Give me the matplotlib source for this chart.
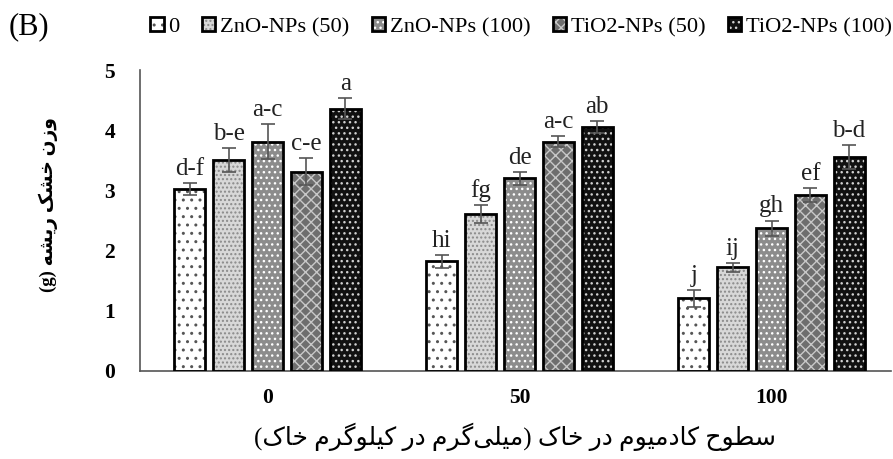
import matplotlib
matplotlib.use("Agg")
import matplotlib.pyplot as plt
import numpy as np
from matplotlib.legend_handler import HandlerTuple

# ---- data ----
cd_levels = ["0", "50", "100"]
treatments = ["0", "ZnO-NPs (50)", "ZnO-NPs (100)", "TiO2-NPs (50)", "TiO2-NPs (100)"]
values = [
    [3.02, 1.82, 1.21],   # 0
    [3.50, 2.61, 1.72],   # ZnO-NPs (50)
    [3.81, 3.20, 2.37],   # ZnO-NPs (100)
    [3.31, 3.81, 2.92],   # TiO2-NPs (50)
    [4.36, 4.06, 3.56],   # TiO2-NPs (100)
]
errors = [
    [0.10, 0.11, 0.14],
    [0.20, 0.15, 0.08],
    [0.29, 0.11, 0.13],
    [0.22, 0.09, 0.12],
    [0.17, 0.10, 0.20],
]
letters = [
    ["d-f", "hi", "j"],
    ["b-e", "fg", "ij"],
    ["a-c", "de", "gh"],
    ["c-e", "a-c", "ef"],
    ["a", "ab", "b-d"],
]
ylabel_fa = "وزن خشک ریشه (g)"
xlabel_fa = "سطوح کادمیوم در خاک (میلی\u200cگرم در کیلوگرم خاک)"

# face colour, hatch, hatch colour
styles = [
    ("white", "..", "#555555"),
    ("#d8d8d8", "....", "#8a8a8a"),
    ("#8c8c8c", "...", "white"),
    ("#6e6e6e", "xxx", "#c8c8c8"),
    ("#111111", "...", "#d0d0d0"),
]

# ---- tiny Persian shaper (presentation forms + visual order) ----
FORMS = {
    "ا": ("\uFE8D", "\uFE8E"), "د": ("\uFEA9", "\uFEAA"), "ر": ("\uFEAD", "\uFEAE"),
    "ز": ("\uFEAF", "\uFEB0"), "و": ("\uFEED", "\uFEEE"),
    "ح": ("\uFEA1", "\uFEA2", "\uFEA3", "\uFEA4"), "خ": ("\uFEA5", "\uFEA6", "\uFEA7", "\uFEA8"),
    "س": ("\uFEB1", "\uFEB2", "\uFEB3", "\uFEB4"), "ش": ("\uFEB5", "\uFEB6", "\uFEB7", "\uFEB8"),
    "ط": ("\uFEC1", "\uFEC2", "\uFEC3", "\uFEC4"), "ل": ("\uFEDD", "\uFEDE", "\uFEDF", "\uFEE0"),
    "م": ("\uFEE1", "\uFEE2", "\uFEE3", "\uFEE4"), "ن": ("\uFEE5", "\uFEE6", "\uFEE7", "\uFEE8"),
    "ه": ("\uFEE9", "\uFEEA", "\uFEEB", "\uFEEC"), "ک": ("\uFB8E", "\uFB8F", "\uFB90", "\uFB91"),
    "گ": ("\uFB92", "\uFB93", "\uFB94", "\uFB95"), "ی": ("\uFBFC", "\uFBFD", "\uFBFE", "\uFBFF"),
}


def shape_fa(text):
    out = []
    for i, ch in enumerate(text):
        if ch == "\u200c":
            continue
        if ch not in FORMS:
            out.append(ch)
            continue
        prev = text[i - 1] if i > 0 else ""
        nxt = text[i + 1] if i + 1 < len(text) else ""
        join_prev = prev in FORMS and len(FORMS[prev]) == 4
        join_next = len(FORMS[ch]) == 4 and nxt in FORMS
        f = FORMS[ch]
        if join_prev and join_next:
            out.append(f[3])
        elif join_prev:
            out.append(f[1])
        elif join_next:
            out.append(f[2])
        else:
            out.append(f[0])
    # visual order, brackets mirrored
    vis = "".join(reversed(out))
    return vis.translate(str.maketrans("()", ")("))


plt.rcParams["font.family"] = ["Liberation Serif", "DejaVu Sans"]
plt.rcParams["hatch.linewidth"] = 1.0

fig = plt.figure(figsize=(8.93, 4.59), dpi=100)
ax = fig.add_axes([140 / 893, 1 - 371 / 459, 751 / 893, 301 / 459])

x = np.arange(len(cd_levels))
width = 0.123
pitch = 0.154
handles = []
for k, name in enumerate(treatments):
    fc, hatch, hc = styles[k]
    pos = x + (k - 2) * pitch
    b1 = ax.bar(pos, values[k], width, color=fc, hatch=hatch, edgecolor=hc, linewidth=0, zorder=2)
    b2 = ax.bar(pos, values[k], width, fill=False, edgecolor="black", linewidth=2.0, zorder=3)
    ax.errorbar(pos, values[k], yerr=errors[k], fmt="none", ecolor="#555555",
                elinewidth=1.2, capsize=5, capthick=1.2, zorder=4)
    for p, v, e, t in zip(pos, values[k], errors[k], letters[k]):
        ax.text(p, v + e + 0.05, t, ha="center", va="bottom", fontsize=18,
                family="Liberation Serif", color="#222222")
    handles.append((b1[0], b2[0]))

ax.set_xlim(-0.506, 2.474)
ax.set_ylim(0, 5)
ax.set_yticks(range(6))
ax.set_xticks(x)
ax.set_xticklabels(cd_levels)
ax.tick_params(length=0, labelsize=15.5, pad=12)
for lab in ax.get_xticklabels() + ax.get_yticklabels():
    lab.set_fontweight("bold")
ax.tick_params(axis="y", pad=18)
for s in ["top", "right"]:
    ax.spines[s].set_visible(False)
for s in ["left", "bottom"]:
    ax.spines[s].set_color("#555555")
    ax.spines[s].set_linewidth(1.2)

fig.text(48 / 893, 1 - 204 / 459, shape_fa(ylabel_fa), rotation=90, ha="center", va="center",
         fontsize=13.5, fontweight="bold", family=["Liberation Serif", "DejaVu Sans"])
fig.text(515 / 893, 1 - 437 / 459, shape_fa(xlabel_fa), ha="center", va="center",
         fontsize=18, family=["Liberation Serif", "DejaVu Sans"])
fig.text(9 / 893, 1 - 27 / 459, "(B)", ha="left", va="center", fontsize=22,
         family="Liberation Serif")

fig.legend(handles, treatments, handler_map={tuple: HandlerTuple(ndivide=1)},
           loc="center left", bbox_to_anchor=(150 / 893, 1 - 27 / 459), ncol=5,
           frameon=False, handlelength=0.6, handleheight=0.6,
           handletextpad=0.2, columnspacing=1.0, borderaxespad=0, borderpad=0,
           prop={"family": "Liberation Serif", "size": 16.2})

fig.savefig("out.png", dpi=100)
